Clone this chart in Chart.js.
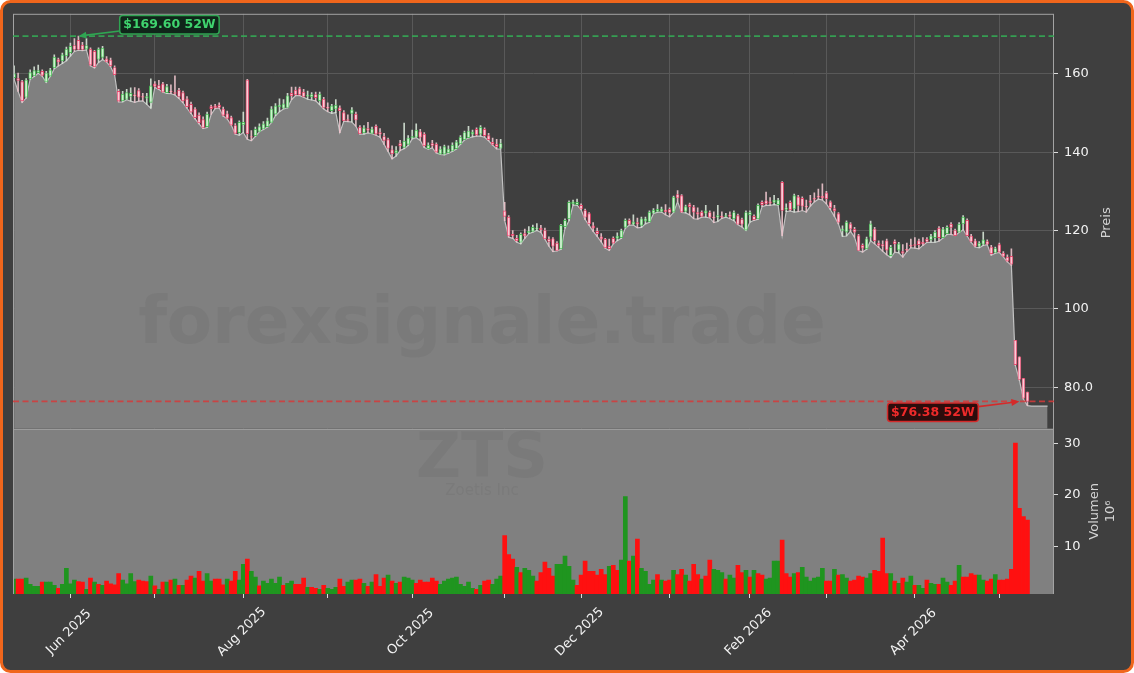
<!DOCTYPE html>
<html>
<head>
<meta charset="utf-8">
<script src="https://cdn.jsdelivr.net/npm/chart.js@4.4.1/dist/chart.umd.min.js"></script>
<style>
html,body{margin:0;padding:0;background:#ffffff;}
#wrap{width:1134px;height:673px;}
</style>
</head>
<body>
<div id="wrap"><canvas id="myChart" width="1134" height="673"></canvas></div>
<script>
// ZTS daily candles, index 0 = 12 May 2025 (trading days)
var opens = [159.0,158.8,158.0,154.0,158.7,159.5,160.3,160.6,157.9,159.4,161.5,163.6,163.3,164.6,165.4,167.2,168.5,167.3,166.3,166.3,
165.7,163.7,164.2,163.8,163.5,161.6,155.5,153.1,153.5,154.2,154.6,155.7,154.2,153.8,152.7,157.4,157.0,157.4,155.2,155.6,
155.2,155.8,155.2,153.6,152.2,151.0,149.4,148.3,146.5,151.6,151.8,152.0,151.0,149.8,148.8,146.8,145.0,147.0,158.4,144.0,
144.2,145.3,145.9,146.5,147.6,149.7,151.6,151.2,151.4,155.0,155.8,156.2,155.3,154.3,154.1,154.7,153.1,153.5,151.5,150.6,
151.0,151.3,150.1,148.3,149.9,149.7,146.4,144.9,146.0,144.8,146.6,145.0,144.0,143.2,140.6,139.8,142.2,141.2,142.0,143.6,
143.8,145.2,144.6,140.9,142.2,142.0,139.5,139.5,139.8,140.3,140.9,142.1,143.2,143.7,144.6,145.8,144.6,145.8,144.2,142.5,
142.0,141.0,125.0,123.4,119.0,118.0,117.0,119.2,119.4,119.8,120.4,120.6,120.0,117.8,117.9,116.8,115.3,121.0,123.0,126.8,
126.6,126.4,125.1,124.3,121.2,119.8,118.4,117.8,116.0,118.0,118.0,118.2,120.8,122.6,121.6,122.0,121.3,122.4,122.2,124.4,
124.9,124.9,125.2,125.4,124.7,129.2,128.9,124.9,126.6,126.0,124.6,124.7,124.4,124.6,123.4,123.4,123.6,123.6,124.0,123.0,
123.8,122.8,120.1,124.0,123.6,123.0,127.2,127.6,127.3,127.2,126.6,132.3,125.4,127.2,125.5,128.6,128.2,126.2,127.6,128.2,
128.8,128.8,129.6,127.3,125.6,124.3,120.0,119.6,121.7,120.3,118.7,116.2,115.3,118.3,120.4,116.8,116.4,117.4,113.6,117.2,
115.0,114.6,115.2,116.2,116.4,117.4,117.0,117.8,117.6,118.2,120.6,118.2,119.2,121.6,120.0,119.6,121.7,122.6,118.6,117.4,
116.0,116.5,117.2,115.8,114.4,116.4,114.2,113.2,113.4,92.0,87.8,82.3,78.8]
var highs = [162.0,160.2,158.3,158.8,161.0,161.8,162.2,161.0,160.6,161.4,164.8,164.0,165.3,166.8,167.8,169.0,169.6,168.0,169.0,166.6,
166.0,166.6,167.0,164.4,164.0,162.0,156.0,155.5,156.0,156.4,156.5,156.2,155.0,155.0,158.7,158.0,158.3,157.8,157.3,157.2,
159.5,156.3,155.6,154.2,152.8,151.4,150.0,149.0,150.2,152.0,152.2,152.6,151.5,150.5,149.2,147.3,148.0,150.2,158.6,145.5,
146.4,147.2,147.8,148.7,151.6,152.4,153.6,153.4,155.0,156.6,156.6,156.6,156.0,155.6,155.2,155.3,155.3,154.0,152.6,152.2,
153.4,151.8,150.6,149.5,151.4,150.2,146.8,146.8,147.6,146.4,147.0,146.0,144.8,143.6,141.6,141.4,143.0,147.4,144.2,145.6,
147.2,145.8,145.0,142.4,143.0,142.4,141.4,141.8,141.6,142.4,143.0,144.2,145.4,146.6,145.6,146.2,146.8,146.2,144.8,143.6,
143.3,143.3,127.2,123.8,120.0,118.8,119.4,120.4,121.0,121.4,121.8,121.3,120.6,118.4,118.2,117.2,121.6,123.0,127.6,127.8,
128.0,126.8,125.5,124.6,122.0,120.6,119.2,118.0,117.8,118.4,119.4,120.4,123.0,123.0,124.0,123.2,123.4,123.4,125.0,125.6,
126.6,126.0,126.6,125.8,128.8,130.2,129.2,126.5,127.0,126.4,125.8,125.0,126.4,125.0,124.8,126.4,124.8,124.4,124.8,125.0,
124.2,123.2,125.0,125.0,124.0,126.8,127.6,129.8,128.4,129.0,128.2,132.5,126.8,127.6,129.3,129.0,128.6,127.8,129.0,129.6,
130.6,131.9,130.0,127.6,126.4,124.6,121.2,122.5,122.0,120.8,119.0,116.6,118.3,122.4,120.8,117.4,117.4,117.8,116.2,117.6,
117.0,116.4,116.8,117.8,118.2,117.8,118.2,118.2,119.0,120.0,121.0,120.8,121.2,122.0,120.4,122.0,123.8,123.0,119.0,117.8,
117.2,119.6,117.6,116.2,115.8,116.8,114.6,113.8,115.3,92.0,87.8,82.3,78.8]
var lows = [158.6,155.5,152.7,153.8,158.6,159.3,160.1,159.4,157.8,159.3,161.3,162.0,162.6,163.3,164.5,165.7,166.0,165.9,166.1,162.0,
161.5,162.9,163.6,163.0,161.8,159.7,152.8,152.8,153.4,153.0,152.7,153.0,153.1,152.2,151.2,156.5,156.0,155.3,155.0,154.9,
154.6,153.7,152.6,151.2,149.8,148.5,147.2,146.0,146.3,149.6,151.1,151.3,149.2,148.5,146.9,144.6,144.3,145.0,143.3,142.9,
144.0,145.2,145.8,146.4,147.5,149.3,150.3,151.0,151.3,153.4,154.4,154.4,154.0,153.5,153.3,153.1,152.1,151.0,150.3,149.9,
150.1,145.0,147.9,147.8,147.7,146.6,144.6,144.6,144.9,144.7,144.3,143.8,142.0,140.2,138.3,139.0,140.4,140.9,141.7,143.4,
143.7,143.0,141.2,140.8,141.1,139.8,139.4,139.3,139.7,140.2,140.8,142.0,143.1,143.6,143.9,144.1,144.1,143.8,142.9,141.8,
140.8,140.8,122.5,118.3,118.0,117.0,116.6,118.0,119.2,119.6,120.0,119.5,117.8,116.0,114.6,114.8,115.2,120.6,122.5,126.5,
126.5,125.3,122.8,121.3,119.8,118.5,117.1,115.5,114.9,116.6,117.4,118.0,120.6,121.4,121.4,120.7,120.8,121.7,122.1,124.3,
124.7,124.7,124.0,123.5,124.6,127.4,124.6,124.5,124.0,123.0,122.9,123.4,123.4,123.2,122.0,122.3,123.1,123.4,123.0,122.5,
121.5,120.9,120.0,122.1,122.6,122.9,126.1,126.4,126.4,126.6,126.5,118.7,124.8,125.0,124.7,124.8,125.1,124.7,126.2,127.3,
128.0,127.8,126.8,125.3,123.6,121.7,118.5,118.6,119.8,118.3,114.9,114.5,115.2,117.4,116.6,115.7,114.7,113.8,113.1,114.5,
114.3,113.2,114.6,115.6,115.5,115.3,116.2,117.0,117.0,117.0,117.3,118.1,119.0,119.0,118.7,119.5,120.2,118.6,117.0,115.8,
115.6,116.2,116.4,113.7,114.2,114.4,113.3,112.0,111.1,85.6,81.8,77.0,75.3]
var closes = [160.0,158.3,153.1,158.4,160.3,160.8,160.8,159.6,160.2,161.0,164.2,163.0,164.8,166.3,167.0,166.2,166.2,166.2,167.2,162.2,
161.8,166.3,166.5,163.0,162.0,159.8,153.0,154.8,155.2,155.0,154.4,154.0,154.0,154.2,156.9,156.8,156.2,155.3,156.7,155.4,
155.0,154.2,153.1,151.6,150.2,148.8,147.5,146.3,149.7,151.1,151.3,151.4,149.4,148.6,146.9,144.8,147.6,147.6,144.7,143.8,
145.8,146.5,147.2,148.0,151.0,151.8,152.0,152.3,154.4,154.4,154.6,154.6,154.2,154.5,154.7,153.9,154.8,151.4,151.2,151.8,
152.0,150.6,148.0,148.1,150.8,148.2,144.7,146.2,145.6,145.9,144.6,144.6,143.0,141.0,139.6,140.4,141.6,142.8,143.6,144.0,
145.6,143.8,141.6,141.8,141.7,140.0,140.8,141.4,140.8,141.8,142.6,143.8,145.0,145.4,145.1,144.4,146.3,144.2,143.2,142.0,
141.4,142.2,123.6,118.6,118.6,117.4,119.0,118.6,119.8,120.8,120.6,120.2,117.9,117.2,116.0,114.9,121.3,122.6,127.2,127.3,
127.2,125.5,123.4,121.7,120.6,119.2,117.8,115.6,115.4,116.8,118.6,120.0,122.6,121.6,122.2,121.7,123.0,123.0,124.7,125.2,
125.4,125.5,124.8,124.6,128.5,128.3,124.7,126.1,126.1,124.7,124.2,123.6,125.0,123.4,123.2,123.8,123.4,123.8,123.6,124.6,
121.6,121.6,124.6,124.6,122.8,126.4,126.6,126.8,127.0,127.8,127.8,125.1,125.8,125.3,128.9,126.4,126.2,126.0,127.2,128.0,
128.5,128.3,128.1,125.8,125.0,122.1,120.4,122.1,120.4,119.6,114.9,115.5,117.9,121.7,117.4,116.2,116.0,115.0,115.7,116.6,
116.6,114.2,115.0,116.0,116.2,116.4,116.6,117.2,118.6,119.6,118.2,120.4,120.8,120.8,118.7,121.6,123.4,118.7,117.2,116.0,
116.8,117.6,116.5,114.1,115.4,114.5,113.4,112.2,111.4,85.8,82.0,77.2,76.4]
// shaded price line keeps running flat after the last candle
var tailLine = [75.2,75.2,75.2,75.2,75.2]

// volume in millions, 1 = green bar, 0 = red bar
var volumes = [3.6,3.6,3.6,3.8,2.6,2.2,2.2,3.0,3.0,3.0,2.4,1.8,2.6,5.7,2.7,3.4,3.1,3.0,1.6,3.8,
3.0,2.6,2.4,3.2,2.7,2.5,4.7,3.4,2.7,4.7,3.1,3.4,3.2,3.1,4.2,2.3,1.6,3.0,3.0,3.4,
3.6,2.4,2.4,3.4,4.2,3.8,5.1,3.2,4.7,3.2,3.6,3.6,2.5,3.6,3.2,5.1,3.4,6.5,7.5,5.1,
4.0,2.3,3.2,2.8,3.6,2.8,4.0,2.4,2.8,3.2,2.6,2.6,3.8,2.0,2.0,1.8,1.6,2.4,1.8,1.6,
2.0,3.6,2.2,3.0,3.4,3.4,3.6,2.8,2.2,3.0,4.5,2.2,3.8,4.4,3.2,2.8,3.0,4.0,3.8,3.4,
2.8,3.4,3.0,3.0,3.8,3.2,2.6,3.2,3.6,3.8,4.0,2.6,2.2,3.0,1.8,1.6,2.4,3.2,3.4,2.6,
3.6,4.2,12.1,8.4,7.5,5.9,4.9,5.7,5.3,4.2,3.2,4.9,6.9,5.7,4.2,6.5,6.5,8.1,6.1,3.4,
2.4,4.4,7.1,5.1,5.1,4.4,5.5,4.5,6.1,6.3,5.3,7.3,19.7,7.1,8.1,11.4,5.7,5.1,2.6,3.4,
4.5,3.4,3.2,3.4,5.3,4.5,5.5,4.4,3.2,6.5,4.5,3.6,4.2,7.3,5.5,5.3,4.9,3.6,4.4,3.8,
6.3,4.9,5.3,4.0,5.3,4.7,4.4,3.6,3.8,7.1,7.1,11.2,4.7,4.0,4.7,4.9,5.9,4.0,3.2,3.8,
4.0,5.7,3.2,3.2,5.5,4.4,4.5,3.8,3.2,3.4,4.2,4.0,3.8,4.7,5.3,5.1,11.6,4.7,4.7,3.2,
2.8,3.8,3.0,4.2,2.4,2.4,1.8,3.4,2.8,2.6,2.6,3.8,3.0,2.4,3.2,6.3,4.0,4.0,4.7,4.4,
4.4,3.4,3.2,3.6,4.5,3.4,3.4,3.6,5.5,30.1,17.4,15.8,15.1]
var volUp = [1,0,0,1,1,1,1,0,1,1,1,0,1,1,1,1,0,0,1,0,
1,0,1,0,0,0,0,1,1,1,1,0,0,0,1,0,1,0,1,0,
1,0,1,0,0,1,0,0,1,1,0,0,0,1,0,0,1,1,0,1,
1,0,1,1,1,1,1,0,1,1,0,0,0,1,0,0,1,0,1,1,
1,0,0,1,1,0,0,1,0,1,0,0,0,1,0,1,0,1,1,1,
0,0,0,0,0,0,1,1,1,1,1,1,1,1,1,0,1,0,0,1,
1,1,0,0,0,1,0,1,1,1,0,0,0,0,0,1,1,1,1,1,
0,0,0,0,0,0,0,0,1,0,0,1,1,0,1,0,1,1,1,1,
0,1,0,0,1,0,0,1,0,0,0,1,0,0,1,1,1,0,1,1,
0,0,1,0,1,0,0,1,1,1,1,0,0,0,1,0,1,1,1,1,
1,1,0,0,1,0,1,1,0,0,0,0,1,1,0,0,0,0,1,0,
1,0,1,1,0,1,1,0,1,1,0,1,1,0,0,1,0,0,0,0,
1,1,0,0,1,0,0,0,0,0,0,0,0]

// first trading day of each month (index) and the shown labels
var monthTicks = [14,35,57,78,99,122,141,163,183,202,224,245]
var monthLabels = ['Jun 2025','','Aug 2025','','Oct 2025','','Dec 2025','','Feb 2026','','Apr 2026','']
var priceTicks = [80,100,120,140,160]
var priceTickLabels = ['80.0','100','120','140','160']
var volTicks = [10,20,30]
var volTickLabels = ['10','20','30']

var high52 = 169.60, high52Idx = 16
var low52 = 76.38, low52Idx = 250

var FONT = "'DejaVu Sans', sans-serif"
Chart.defaults.font.family = FONT

var bodyData = [], wickData = [], bodyFill = [], bodyEdge = [], wickColor = []
for (var i = 0; i < opens.length; i++) {
    var up = closes[i] >= opens[i]
    bodyData.push({x: i, y: [opens[i], closes[i]]})
    wickData.push({x: i, y: [lows[i], highs[i]]})
    bodyFill.push(up ? 'rgba(214,244,214,0.9)' : 'rgba(252,212,222,0.9)')
    bodyEdge.push(up ? 'rgba(64,190,78,0.85)' : 'rgba(236,60,100,0.85)')
    wickColor.push(up ? 'rgba(214,228,214,0.9)' : 'rgba(236,196,204,0.9)')
}
var areaData = lows.concat(tailLine).map(function (v, i) { return {x: i, y: v} })
var volData = volumes.map(function (v, i) { return {x: i, y: v} })
var volColors = volUp.map(function (u) { return u ? '#1f951f' : '#ff1010' })

function roundRectPath(c, x, y, w, h, r) {
    c.beginPath()
    c.moveTo(x + r, y)
    c.lineTo(x + w - r, y)
    c.arcTo(x + w, y, x + w, y + r, r)
    c.lineTo(x + w, y + h - r)
    c.arcTo(x + w, y + h, x + w - r, y + h, r)
    c.lineTo(x + r, y + h)
    c.arcTo(x, y + h, x, y + h - r, r)
    c.lineTo(x, y + r)
    c.arcTo(x, y, x + r, y, r)
    c.closePath()
}

function drawTag(c, text, tipX, tipY, dx, dy, color, fill, textColor) {
    c.save()
    c.font = 'bold 12.5px ' + FONT
    var w = c.measureText(text).width + 7, h = 18.5
    var cx = tipX + dx, cy = tipY + dy
    var vx = tipX - cx, vy = tipY - cy
    var t = Math.min((w / 2) / Math.abs(vx), (h / 2) / Math.abs(vy))
    var sx = cx + vx * t, sy = cy + vy * t
    var a = Math.atan2(vy, vx)
    c.strokeStyle = color
    c.fillStyle = color
    c.lineWidth = 1.6
    c.beginPath()
    c.moveTo(sx, sy)
    c.lineTo(tipX - 6 * Math.cos(a), tipY - 6 * Math.sin(a))
    c.stroke()
    c.beginPath()
    c.moveTo(tipX, tipY)
    c.lineTo(tipX - 8 * Math.cos(a) + 3.5 * Math.sin(a), tipY - 8 * Math.sin(a) - 3.5 * Math.cos(a))
    c.lineTo(tipX - 8 * Math.cos(a) - 3.5 * Math.sin(a), tipY - 8 * Math.sin(a) + 3.5 * Math.cos(a))
    c.closePath()
    c.fill()
    roundRectPath(c, cx - w / 2, cy - h / 2, w, h, 3)
    c.fillStyle = fill
    c.fill()
    c.lineWidth = 1.5
    c.stroke()
    c.fillStyle = textColor
    c.textAlign = 'center'
    c.textBaseline = 'middle'
    c.fillText(text, cx, cy + 0.5)
    c.restore()
}

var panels = {
    id: 'panels',
    beforeDraw: function (chart) {
        var c = chart.ctx
        c.save()
        roundRectPath(c, 1.5, 1.5, 1131, 670, 9)
        c.fillStyle = '#3f3f3f'
        c.fill()
        c.restore()
    },
    beforeDatasetsDraw: function (chart) {
        var c = chart.ctx, a = chart.chartArea, v = chart.scales.yVol
        c.save()
        c.fillStyle = '#808080'
        c.fillRect(a.left, v.top, a.right - a.left, v.bottom - v.top)
        c.restore()
    },
    afterDatasetsDraw: function (chart) {
        var c = chart.ctx, a = chart.chartArea
        var x = chart.scales.x, p = chart.scales.yPrice, v = chart.scales.yVol
        c.save()
        // watermarks
        c.textAlign = 'center'
        c.textBaseline = 'middle'
        c.fillStyle = 'rgba(40,40,40,0.065)'
        c.font = 'bold 66px ' + FONT
        c.fillText('forexsignale.trade', 482, 326)
        c.font = 'bold 62px ' + FONT
        c.fillText('ZTS', 482, 461)
        c.font = '15px ' + FONT
        c.fillText('Zoetis Inc', 482, 491)

        // spines
        c.strokeStyle = '#a3a3a3'
        c.lineWidth = 1
        c.strokeRect(a.left + 0.5, p.top + 0.5, a.right - a.left - 1, p.bottom - p.top)
        c.beginPath()
        c.moveTo(a.left + 0.5, v.top)
        c.lineTo(a.left + 0.5, v.bottom)
        c.moveTo(a.right - 0.5, v.top)
        c.lineTo(a.right - 0.5, v.bottom)
        c.stroke()

        // 52 week lines
        c.setLineDash([6, 3.5])
        c.lineWidth = 1.8
        c.strokeStyle = 'rgba(52,168,84,0.9)'
        var yh = p.getPixelForValue(high52)
        c.beginPath(); c.moveTo(a.left, yh); c.lineTo(a.right, yh); c.stroke()
        c.strokeStyle = 'rgba(214,58,58,0.85)'
        var yl = p.getPixelForValue(low52)
        c.beginPath(); c.moveTo(a.left, yl); c.lineTo(a.right, yl); c.stroke()
        c.setLineDash([])
        c.restore()

        drawTag(c, '$' + high52.toFixed(2) + ' 52W', x.getPixelForValue(high52Idx), yh, 91, -11.5,
            '#2fa552', '#10261a', '#3fd36e')
        drawTag(c, '$' + low52.toFixed(2) + ' 52W', x.getPixelForValue(low52Idx), yl, -86.5, 10.8,
            '#d42a2a', '#2c0c0c', '#ee2a2a')
    },
    afterDraw: function (chart) {
        var c = chart.ctx, x = chart.scales.x, p = chart.scales.yPrice, v = chart.scales.yVol
        c.save()
        // month labels, rotated 45 degrees and centred on their tick
        c.font = '13px ' + FONT
        c.fillStyle = '#f2f2f2'
        c.textAlign = 'center'
        c.textBaseline = 'middle'
        for (var i = 0; i < monthTicks.length; i++) {
            if (!monthLabels[i]) continue
            c.save()
            c.translate(x.getPixelForValue(monthTicks[i]) - 1.5, 632)
            c.rotate(-Math.PI / 4)
            c.fillText(monthLabels[i], 0, 0)
            c.restore()
        }
        // axis titles
        c.fillStyle = '#d4d4d4'
        c.save()
        c.translate(1106.5, (p.top + p.bottom) / 2 + 1.5)
        c.rotate(-Math.PI / 2)
        c.fillText('Preis', 0, 0)
        c.restore()
        c.save()
        c.translate(1102.5, (v.top + v.bottom) / 2)
        c.rotate(-Math.PI / 2)
        c.fillText('Volumen', 0, -7.5)
        c.fillText('10\u2076', 0, 8)
        c.restore()
        // frame
        roundRectPath(c, 1.5, 1.5, 1131, 670, 9)
        c.lineWidth = 3
        c.strokeStyle = '#f0661c'
        c.stroke()
        c.restore()
    }
}

var ctx = document.getElementById('myChart').getContext('2d')
var myChart = new Chart(ctx, {
    type: 'bar',
    data: {
        datasets: [{
            type: 'line',
            label: 'Preis',
            data: areaData,
            yAxisID: 'yPrice',
            borderColor: '#c2c2c2',
            borderWidth: 1.2,
            backgroundColor: '#808080',
            fill: 'start',
            pointRadius: 0,
            tension: 0,
            order: 4
        }, {
            label: 'Docht',
            data: wickData,
            yAxisID: 'yPrice',
            backgroundColor: wickColor,
            barThickness: 1,
            grouped: false,
            order: 3
        }, {
            label: 'Kerze',
            data: bodyData,
            yAxisID: 'yPrice',
            backgroundColor: bodyFill,
            borderColor: bodyEdge,
            borderWidth: 0.9,
            borderSkipped: false,
            barThickness: 3,
            grouped: false,
            order: 2
        }, {
            label: 'Volumen',
            data: volData,
            yAxisID: 'yVol',
            backgroundColor: volColors,
            barPercentage: 1,
            categoryPercentage: 1,
            grouped: false,
            order: 1
        }]
    },
    options: {
        responsive: false,
        animation: false,
        devicePixelRatio: 1,
        layout: {padding: {left: 13, top: 13, right: 0, bottom: 0}},
        plugins: {legend: {display: false}, tooltip: {enabled: false}},
        scales: {
            x: {
                type: 'linear',
                position: 'bottom',
                min: -0.27,
                max: 258.6,
                offset: false,
                grid: {offset: false, color: '#595959', lineWidth: 1, tickColor: '#dcdcdc', tickLength: 4},
                border: {display: false},
                ticks: {display: false},
                afterBuildTicks: function (s) { s.ticks = monthTicks.map(function (t) { return {value: t} }) },
                afterFit: function (s) { s.height = 79 }
            },
            yPrice: {
                type: 'linear',
                position: 'right',
                stack: 'panels',
                stackWeight: 415.6,
                min: 69.4,
                max: 175.3,
                grid: {color: '#595959', tickColor: '#dcdcdc', tickLength: 4},
                border: {display: false},
                ticks: {
                    color: '#f2f2f2', font: {size: 13}, padding: 6,
                    callback: function (val, i) { return priceTickLabels[i] }
                },
                afterBuildTicks: function (s) { s.ticks = priceTicks.map(function (t) { return {value: t} }) },
                afterFit: function (s) { s.width = 80 }
            },
            yVol: {
                type: 'linear',
                position: 'right',
                stack: 'panels',
                stackWeight: 165.4,
                min: 0.7,
                max: 32.9,
                grid: {drawOnChartArea: false, color: 'rgba(0,0,0,0)', tickColor: '#dcdcdc', tickLength: 4},
                border: {display: false},
                ticks: {
                    color: '#f2f2f2', font: {size: 13}, padding: 6,
                    callback: function (val, i) { return volTickLabels[i] }
                },
                afterBuildTicks: function (s) { s.ticks = volTicks.map(function (t) { return {value: t} }) },
                afterFit: function (s) { s.width = 80 }
            }
        }
    },
    plugins: [panels]
})
</script>
</body>
</html>
